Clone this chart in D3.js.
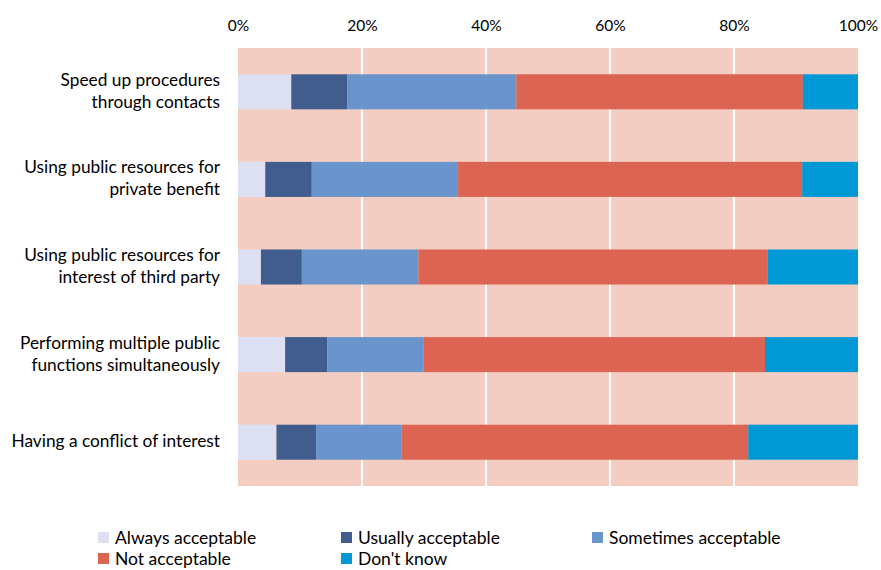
<!DOCTYPE html>
<html><head><meta charset="utf-8">
<script src="https://cdn.jsdelivr.net/npm/d3@7"></script>
<style>body{margin:0;background:#fff}svg{display:block}text{font-family:Lato,"Open Sans",sans-serif;fill:#000}</style>
</head><body><svg id="c" width="881" height="570"></svg>
<script>
const categories = [
  ["Speed up procedures","through contacts"],
  ["Using public resources for","private benefit"],
  ["Using public resources for","interest of third party"],
  ["Performing multiple public","functions simultaneously"],
  ["Having a conflict of interest"]
];
const seriesNames = ["Always acceptable","Usually acceptable","Sometimes acceptable","Not acceptable","Don't know"];
const alwaysVals    = [8.6, 4.4, 3.7, 7.6, 6.2];
const usuallyVals   = [9.0, 7.5, 6.6, 6.8, 6.4];
const sometimesVals = [27.3, 23.6, 18.8, 15.5, 13.8];
const notVals       = [46.2, 55.5, 56.3, 55.1, 55.9];
const dontKnowVals  = [8.9, 9.0, 14.6, 15.0, 17.7];
const tickValues = [0, 20, 40, 60, 80, 100];
const colors = ["#DCE0F2","#415D8E","#6994CC","#DC6453","#0099D6"];

const svg = d3.select("#c");
const L = 238, R = 858, T = 48, B = 486;
const x = d3.scaleLinear().domain([0,100]).range([L,R]);
const y = d3.scaleBand().domain(d3.range(categories.length)).range([T,B]).paddingInner(0.6).paddingOuter(0.3);

svg.append("rect").attr("x",L).attr("y",T).attr("width",R-L).attr("height",B-T).attr("fill","#F3CDC2");
svg.append("g").selectAll("line").data(tickValues.slice(1,-1)).join("line")
  .attr("x1",d=>x(d)).attr("x2",d=>x(d)).attr("y1",T).attr("y2",B)
  .attr("stroke","#fff").attr("stroke-width",2);

const table = categories.map((c,i)=>({i, always:alwaysVals[i], usually:usuallyVals[i], sometimes:sometimesVals[i], not:notVals[i], dk:dontKnowVals[i]}));
const keys = ["always","usually","sometimes","not","dk"];
const stacked = d3.stack().keys(keys)(table);
svg.append("g").selectAll("g").data(stacked).join("g").attr("fill",(d,k)=>colors[k])
  .selectAll("rect").data(d=>d).join("rect")
  .attr("x",d=>x(d[0])).attr("width",d=>x(d[1])-x(d[0]))
  .attr("y",(d,i)=>y(i)).attr("height",y.bandwidth());

// top axis
const ax = svg.append("g").attr("transform",`translate(0,${T})`)
  .call(d3.axisTop(x).tickValues(tickValues).tickFormat(d=>d+"%").tickSize(0).tickPadding(17));
ax.select(".domain").remove();
ax.selectAll("text").attr("font-size",15.5).style("font-family","Lato, 'Open Sans', sans-serif");

// category labels
const lab = svg.append("g").selectAll("text").data(categories).join("text")
  .attr("text-anchor","end").attr("font-size",17.3)
  .attr("transform",(d,i)=>`translate(220,${y(i)+y.bandwidth()/2})`);
lab.each(function(lines){
  const t = d3.select(this);
  const n = lines.length;
  lines.forEach((ln,j)=>{
    t.append("tspan").attr("x",0).attr("y",(j-(n-1)/2)*22 + 5).text(ln);
  });
});

// legend
const legPos = [[98,538],[341,538],[592,538],[98,559],[341,559]];
const lg = svg.append("g").selectAll("g").data(seriesNames).join("g")
  .attr("transform",(d,i)=>`translate(${legPos[i][0]},${legPos[i][1]})`);
lg.append("rect").attr("x",0).attr("y",-6).attr("width",11).attr("height",11).attr("fill",(d,i)=>colors[i]);
lg.append("text").attr("x",17).attr("y",5.5).attr("font-size",17.5).text(d=>d);
</script></body></html>
